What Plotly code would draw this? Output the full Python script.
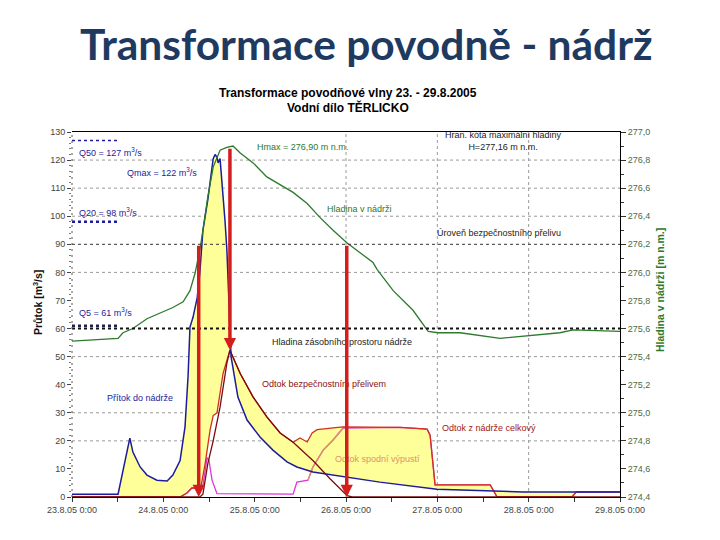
import plotly.graph_objects as go
import pandas as pd

T0 = pd.Timestamp("2005-08-23 00:00")

# ---------- data (hours since 23.8.2005 0:00) ----------
inflow_h = [0.0, 12.1, 15.2, 16.0, 17.9, 19.7, 22.3, 25.0, 26.5, 28.4, 29.7, 30.5, 31.0, 31.8,
            32.9, 33.6, 34.4, 35.7, 37.1, 37.6, 38.1, 38.4, 38.9, 39.4, 40.2, 40.7, 41.0, 41.4,
            41.8, 43.6, 46.0, 49.4, 52.8, 56.5, 59.1, 63.3, 72.3, 80.9, 95.9, 102.0, 118.5, 144.0]
inflow_q = [1.0, 1.0, 21, 16, 10.7, 7.8, 6.0, 5.7, 7.8, 13, 25, 43, 60.5, 64,
            71, 80, 95, 106, 120.5, 122, 121, 119, 120.5, 113, 98.5, 88, 78, 60,
            50, 35.6, 27.4, 21.4, 16.7, 12.5, 10.7, 8.9, 7.1, 5.3, 2.8, 2.5, 1.8, 1.8]

total_h = [0.0, 28.4, 30.2, 31.5, 32.9, 33.6, 35.0, 36.3, 37.1, 38.1, 39.7, 41.5, 44.2, 47.6,
           51.2, 54.7, 58.1, 59.9, 61.8, 63.1, 64.4, 71.2, 86.2, 93.3, 94.1, 94.9, 95.4,
           109.9, 111.7, 131.4, 132.5, 144.0]
total_q = [0, 0, 1.4, 3.2, 3.2, 1.5, 12, 24, 29, 30, 44, 52.3, 44, 35.6,
           28.5, 22.8, 19.5, 21, 19.6, 22.8, 24, 25, 24.8, 24.2, 22, 10, 4.3,
           4.3, 0, 0, 1.8, 1.8]

spill_h = [0.0, 33.6, 34.4, 35.7, 37.1, 38.9, 40.7, 41.5, 44.2, 47.6, 51.2, 54.7, 58.1,
           63.3, 67.8, 72.3, 73.6, 144.0]
spill_q = [0, 0, 1, 12, 20, 32, 47.7, 52.3, 44, 35.6, 28.5, 22.8, 19.5,
           13, 6.5, 0.5, 0, 0]

outlet_h = [0.0, 28.4, 30.2, 31.5, 32.9, 33.6, 34.4, 35.5, 36.0, 36.8, 38.1, 58.1, 59.1,
            62.0, 63.3, 66.0, 68.6, 71.2, 86.2, 93.3, 94.1, 94.9, 95.4, 109.9, 111.7,
            131.4, 132.5, 144.0]
outlet_q = [0, 0, 1.4, 3.2, 3.2, 1.5, 4, 14, 13, 6, 1.2, 1.0, 5.3,
            6, 10.7, 16.7, 20.3, 24.5, 24.8, 24.2, 22, 10, 4.3, 4.3, 0,
            0, 1.8, 1.8]
outlet_rise_start = 13   # index where the bottom-outlet curve turns salmon
outlet_rise_end = 18

level_h = [0.0, 12.1, 13.4, 16.0, 19.7, 22.3, 26.5, 29.2, 31.0, 32.3, 33.6, 34.4, 35.7, 37.1,
           38.9, 40.7, 42.3, 44.2, 47.6, 51.2, 55.5, 58.1, 61.8, 65.2, 68.6, 72.3, 75.7,
           79.1, 80.2, 84.4, 89.6, 93.6, 96.2, 102.0, 112.5, 119.6, 128.2, 131.7, 144.0]
level_m = [275.51, 275.53, 275.57, 275.60, 275.67, 275.70, 275.75, 275.79, 275.87, 275.99,
           276.16, 276.30, 276.54, 276.75, 276.87, 276.89, 276.90, 276.85, 276.78, 276.68,
           276.61, 276.57, 276.49, 276.39, 276.30, 276.21, 276.14, 276.07, 276.02, 275.87,
           275.73, 275.58, 275.57, 275.57, 275.53, 275.55, 275.57, 275.59, 275.58]

q_names = ["Q50 = 127 m<sup>3</sup>/s", "Q20 = 98 m<sup>3</sup>/s", "Q5 = 61 m<sup>3</sup>/s"]
q_values = [127, 98, 61]
q_label_y = [122.8, 101.4, 65.8]
q_line_end_h = 12.6

storage_level = 275.6     # Hladina zásobního prostoru
spillway_level = 276.2    # Úroveň bezpečnostního přelivu
hmax = 276.90
qmax = 122

arrow_h = [33.3, 41.5, 72.2]
arrow_top_q = [90, 124.6, 90]
arrow_tip_q = [0, 52.3, 0]

day_ticks_h = [0, 24, 48, 72, 96, 120, 144]
day_labels = ["23.8.05 0:00", "24.8.05 0:00", "25.8.05 0:00", "26.8.05 0:00",
              "27.8.05 0:00", "28.8.05 0:00", "29.8.05 0:00"]
hgrid_q = [20, 30, 50, 80, 100, 110, 120]
vgrid_h = [72, 96, 120]


def t(hours):
    return [T0 + pd.Timedelta(hours=h) for h in hours]


BLUE = "#1c1c9c"
DARKRED = "#7a0c0c"
RED = "#d0301c"
MAGENTA = "#dd33dd"
SALMON = "#e0906a"
GREEN = "#2c7a2c"
YELLOW = "#ffff9a"
FONT = "Liberation Sans"

fig = go.Figure()

# yellow area between inflow and total outflow
fig.add_trace(go.Scatter(x=t(total_h), y=total_q, mode="lines", line=dict(width=0),
                         hoverinfo="skip"))
fig.add_trace(go.Scatter(x=t(inflow_h), y=inflow_q, mode="lines", line=dict(width=0),
                         fill="tonexty", fillcolor=YELLOW, hoverinfo="skip"))

# Q reference lines
q_styles = [dict(color=BLUE, width=1.5, dash="dot"),
            dict(color=BLUE, width=2.5, dash="dot"),
            dict(color="#202050", width=2.5, dash="dot")]
for qv, st in zip(q_values, q_styles):
    fig.add_trace(go.Scatter(x=t([0, q_line_end_h]), y=[qv, qv], mode="lines", line=st))

fig.add_trace(go.Scatter(x=t(outlet_h), y=outlet_q, mode="lines",
                         line=dict(color=MAGENTA, width=1.3)))
fig.add_trace(go.Scatter(x=t(total_h), y=total_q, mode="lines",
                         line=dict(color=RED, width=1.3)))
fig.add_trace(go.Scatter(x=t(outlet_h[outlet_rise_start:outlet_rise_end]),
                         y=outlet_q[outlet_rise_start:outlet_rise_end], mode="lines",
                         line=dict(color=SALMON, width=1.3)))
fig.add_trace(go.Scatter(x=t(spill_h), y=spill_q, mode="lines",
                         line=dict(color=DARKRED, width=1.3)))
fig.add_trace(go.Scatter(x=t(inflow_h), y=inflow_q, mode="lines",
                         line=dict(color=BLUE, width=1.5)))
fig.add_trace(go.Scatter(x=t(level_h), y=level_m, mode="lines", yaxis="y2",
                         line=dict(color=GREEN, width=1.3)))

shapes = []
for q in hgrid_q:
    shapes.append(dict(type="line", xref="paper", x0=0, x1=1, yref="y", y0=q, y1=q,
                       line=dict(color="#9a9a9a", width=1, dash="3px,3px"), layer="below"))
for h in vgrid_h:
    tt = T0 + pd.Timedelta(hours=h)
    shapes.append(dict(type="line", xref="x", x0=tt, x1=tt, yref="paper", y0=0, y1=1,
                       line=dict(color="#9a9a9a", width=1, dash="3px,3px"), layer="below"))
shapes.append(dict(type="line", xref="paper", x0=0, x1=1, yref="y2", y0=spillway_level,
                   y1=spillway_level, line=dict(color="#333333", width=1, dash="3px,3px")))
shapes.append(dict(type="line", xref="paper", x0=0, x1=1, yref="y2", y0=storage_level,
                   y1=storage_level, line=dict(color="#111111", width=2, dash="dot")))
shapes.append(dict(type="line", xref="paper", x0=0, x1=0, yref="paper", y0=0, y1=1,
                   line=dict(color="#555555", width=1, dash="2px,4px")))

ann = []


def lab(text, h, y, color, xanchor="left", yref="y", size=9):
    ann.append(dict(text=text, x=T0 + pd.Timedelta(hours=h), y=y, xref="x", yref=yref,
                    xanchor=xanchor, yanchor="middle", showarrow=False,
                    font=dict(family=FONT, size=size, color=color)))


for name, ly in zip(q_names, q_label_y):
    lab(name, 1.3, ly, BLUE)
lab(f"Qmax = {qmax} m<sup>3</sup>/s", 13.9, 115.7, BLUE)
lab("Hmax = 276,90 m n.m.", 48.1, 124.6, GREEN)
lab("Hladina v nádrži", 66.5, 102.5, GREEN)
lab("Hran. kóta maximální hladiny<br>H=277,16 m n.m.", 113.5, 126.7, "#222222",
    xanchor="center")
lab("Úroveň bezpečnostního přelivu", 95.4, 94, "#222222")
lab("Hladina zásobního prostoru nádrže", 52.0, 55.2, "#222222")
lab("Odtok bezpečnostním přelivem", 49.4, 40.2, "#8a1010")
lab("Přítok do nádrže", 8.7, 35.2, BLUE)
lab("Odtok z nádrže celkový", 96.7, 24.6, "#a01818")
lab("Odtok spodní výpustí", 68.6, 13.5, SALMON)

for h, top, tip in zip(arrow_h, arrow_top_q, arrow_tip_q):
    tt = T0 + pd.Timedelta(hours=h)
    ann.append(dict(x=tt, y=tip, ax=tt, ay=top, xref="x", yref="y", axref="x", ayref="y",
                    showarrow=True, arrowhead=2, arrowsize=0.7, arrowwidth=3.5,
                    arrowcolor="#d41e1e", text=""))

ann.append(dict(text="Průtok [m<sup>3</sup>/s]", xref="paper", yref="paper", x=-0.064,
                y=0.534, textangle=-90, showarrow=False, xanchor="center", yanchor="middle",
                font=dict(family=FONT, size=10.5, color="#111111", weight="bold")))
ann.append(dict(text="Hladina v nádrži [m n.m.]", xref="paper", yref="paper", x=1.073,
                y=0.567, textangle=-90, showarrow=False, xanchor="center", yanchor="middle",
                font=dict(family=FONT, size=10.5, color=GREEN, weight="bold")))
ann.append(dict(text="Transformace povodňové vlny 23. - 29.8.2005", xref="paper",
                yref="paper", x=0.504, y=1.107, showarrow=False, xanchor="center",
                yanchor="middle", font=dict(family=FONT, size=12, color="#000000", weight="bold")))
ann.append(dict(text="Vodní dílo TĚRLICKO", xref="paper", yref="paper", x=0.504, y=1.066,
                showarrow=False, xanchor="center", yanchor="middle",
                font=dict(family=FONT, size=12, color="#000000", weight="bold")))
ann.append(dict(text="Transformace povodně - nádrž", xref="paper", yref="paper", x=0.538,
                y=1.243, showarrow=False, xanchor="center", yanchor="middle",
                font=dict(family="Lato", size=42.5, color="#1f3a60", weight="bold")))

fig.update_layout(
    width=720, height=540,
    margin=dict(l=64, r=108, t=124, b=51),
    paper_bgcolor="white", plot_bgcolor="white",
    showlegend=False,
    separators=", ",
    shapes=shapes, annotations=ann,
    xaxis=dict(type="date", range=[T0, T0 + pd.Timedelta(hours=144)],
               tickvals=t(day_ticks_h), ticktext=day_labels, showgrid=False,
               showline=True, linecolor="black", linewidth=1, mirror=True,
               ticks="outside", ticklen=4, tickcolor="#333",
               minor=dict(dtick=43200000, ticks="outside", ticklen=4, tickcolor="#333"),
               tickfont=dict(family=FONT, size=9, color="#444444"), zeroline=False),
    yaxis=dict(range=[0, 130], dtick=10, showgrid=False, showline=False, zeroline=False,
               ticks="outside", ticklen=4, tickcolor="#444",
               minor=dict(dtick=2, ticks="outside", ticklen=2, tickcolor="#777"),
               tickfont=dict(family=FONT, size=9, color="#444444")),
    yaxis2=dict(range=[274.4, 277.0], dtick=0.2, tickformat=".1f", overlaying="y",
                side="right", showgrid=False, zeroline=False, showline=True,
                linecolor="black", linewidth=1, ticks="outside", ticklen=5,
                tickcolor="#333", minor=dict(dtick=0.1, ticks="outside", ticklen=3,
                                             tickcolor="#333"),
                tickfont=dict(family=FONT, size=9, color="#4a6a4a")),
)

fig.write_html("out.html")
